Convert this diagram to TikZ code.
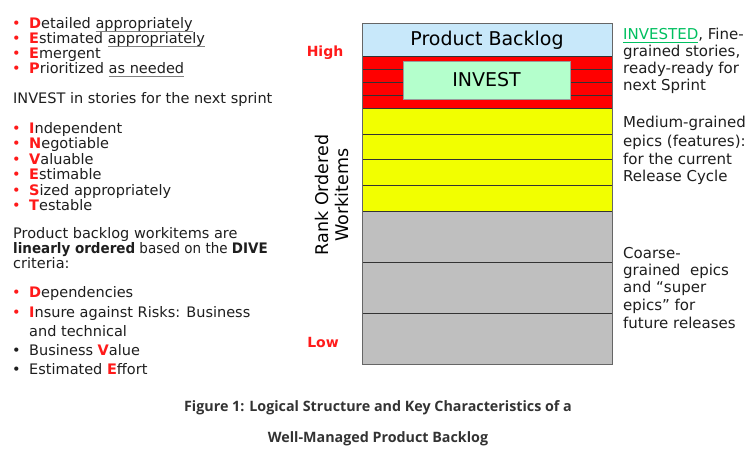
\documentclass[tikz,border=0pt]{standalone}
\usepackage{graphicx}
\usepackage{fontspec}
\setmainfont{DejaVu Sans}
\newfontfamily\capfont{Open Sans}
\definecolor{txt}{HTML}{1E1E1E}
\definecolor{myred}{HTML}{FF1A1A}
\definecolor{pbblue}{HTML}{C8E8FA}
\definecolor{pbred}{HTML}{FF0000}
\definecolor{pbyel}{HTML}{F2FF00}
\definecolor{pbgray}{HTML}{BFBFBF}
\definecolor{pbgreen}{HTML}{B4FFCC}
\definecolor{invgreen}{HTML}{00C060}
\definecolor{captxt}{HTML}{333333}
\newcommand\myred[1]{{\color{myred}\bfseries #1}}
\newcommand\myul[1]{\setbox0\hbox{#1}\rlap{\color{gray}\rule[-2.6pt]{\wd0}{0.9pt}}#1}
\newcommand\myulg[1]{\setbox0\hbox{#1}\rlap{\color{invgreen}\rule[-2.6pt]{\wd0}{0.9pt}}{\color{invgreen}#1}}
\newcommand\mybul{{\color{myred}\textbullet}}
\newcommand\mybulk{{\color{txt}\textbullet}}
\begin{document}
\begin{tikzpicture}[x=1pt,y=-1pt,
  lt/.style={anchor=base west,inner sep=0pt,text=txt,font=\fontsize{14.5}{17}\selectfont},
  rt/.style={anchor=base west,inner sep=0pt,text=txt,font=\fontsize{15}{18}\selectfont},
  sepline/.style={draw=black!80,line width=0.9pt},
  captext/.style={inner sep=0pt,text=captxt,font=\capfont\bfseries\fontsize{14.3}{17}\selectfont}]
\useasboundingbox (0,0) rectangle (750,452);
\fill[white] (0,0) rectangle (750,452);
% ---------- left column ----------
\foreach \y/\n in {29/b1,44/b2,59/b3,74/b4,133/b5,148.5/b6,164/b7,179.5/b8,195/b9,210.5/b10,297/b11,317/b12}
  \node[lt] (\n) at (12,\y) {\mybul};
\foreach \y/\n in {355/b13,374/b14}
  \node[lt] (\n) at (12,\y) {\mybulk};
\node[lt] (t1) at (29,29) {\myred{D}etailed \myul{appropriately}};
\node[lt] (t2) at (29,44) {\myred{E}stimated \myul{appropriately}};
\node[lt] (t3) at (29,59) {\myred{E}mergent};
\node[lt] (t4) at (29,74) {\myred{P}rioritized \myul{as needed}};
\node[lt] (p1) at (13,103) {INVEST in stories for the next sprint};
\node[lt] (t5) at (29,133) {\myred{I}ndependent};
\node[lt] (t6) at (29,148.5) {\myred{N}egotiable};
\node[lt] (t7) at (29,164) {\myred{V}aluable};
\node[lt] (t8) at (29,179.5) {\myred{E}stimable};
\node[lt] (t9) at (29,195) {\myred{S}ized appropriately};
\node[lt] (t10) at (29,210.5) {\myred{T}estable};
\node[lt] (p2) at (13,238) {Product backlog workitems are};
\node[lt] (p3) at (13,253) {\scalebox{0.93}[1]{\textbf{linearly ordered} based on the \textbf{DIVE}}};
\node[lt] (p4) at (13,268) {criteria:};
\node[lt] (t11) at (29,297) {\myred{D}ependencies};
\node[lt] (t12) at (29,317) {\myred{I}nsure against Risks: Business};
\node[lt] (t12b) at (29,336) {and technical};
\node[lt] (t13) at (29,355) {Business \myred{V}alue};
\node[lt] (t14) at (29,374) {Estimated \myred{E}ffort};
% ---------- stack ----------
\fill[pbblue] (362,24) rectangle (612,56);
\fill[pbred] (362,56) rectangle (612,108);
\fill[pbyel] (362,108) rectangle (612,211);
\fill[pbgray] (362,211) rectangle (612,364);
\foreach \y in {69,82,95} \draw[sepline] (362,\y) -- (612,\y);
\foreach \y in {56,108,134,159,185,211,262,313} \draw[sepline] (362,\y) -- (612,\y);
\draw[draw=black!60,line width=1pt] (362,24) rectangle (612,364);
\node[draw=black!40,fill=pbgreen,minimum width=167pt,minimum height=38pt,inner sep=0pt,
      font=\fontsize{19}{21}\selectfont,text=black] (inv) at (486.5,80) {INVEST};
\node[inner sep=0pt,font=\fontsize{19}{21}\selectfont,text=black] (pb) at (487,40) {Product Backlog};
\node[inner sep=0pt,text=myred,font=\bfseries\fontsize{14}{16}\selectfont] (hi) at (325,53) {High};
\node[inner sep=0pt,text=myred,font=\bfseries\fontsize{14}{16}\selectfont] (lo) at (323,342) {Low};
\node[inner sep=0pt,rotate=90,align=center,text=black,font=\fontsize{17.5}{20}\selectfont] (rank) at (332,195) {Rank Ordered\\Workitems};
% ---------- right column ----------
\node[rt] (r1) at (623,40) {\myulg{INVESTED}, Fine-};
\node[rt] (r2) at (623,57) {grained stories,};
\node[rt] (r3) at (623,74) {ready-ready for};
\node[rt] (r4) at (623,91) {next Sprint};
\node[rt] (r5) at (623,128) {Medium-grained};
\node[rt] (r6) at (623,146) {epics (features):};
\node[rt] (r7) at (623,164) {for the current};
\node[rt] (r8) at (623,181) {Release Cycle};
\node[rt] (r9) at (623,258) {Coarse-};
\node[rt] (r10) at (623,275) {grained\ \ epics};
\node[rt] (r11) at (623,292) {and “super};
\node[rt] (r12) at (623,310) {epics” for};
\node[rt] (r13) at (623,328) {future releases};
% ---------- caption ----------
\node[captext] (c1) at (378,408) {Figure 1: Logical Structure and Key Characteristics of a};
\node[captext] (c2) at (378,439) {Well-Managed Product Backlog};
\end{tikzpicture}
\end{document}
